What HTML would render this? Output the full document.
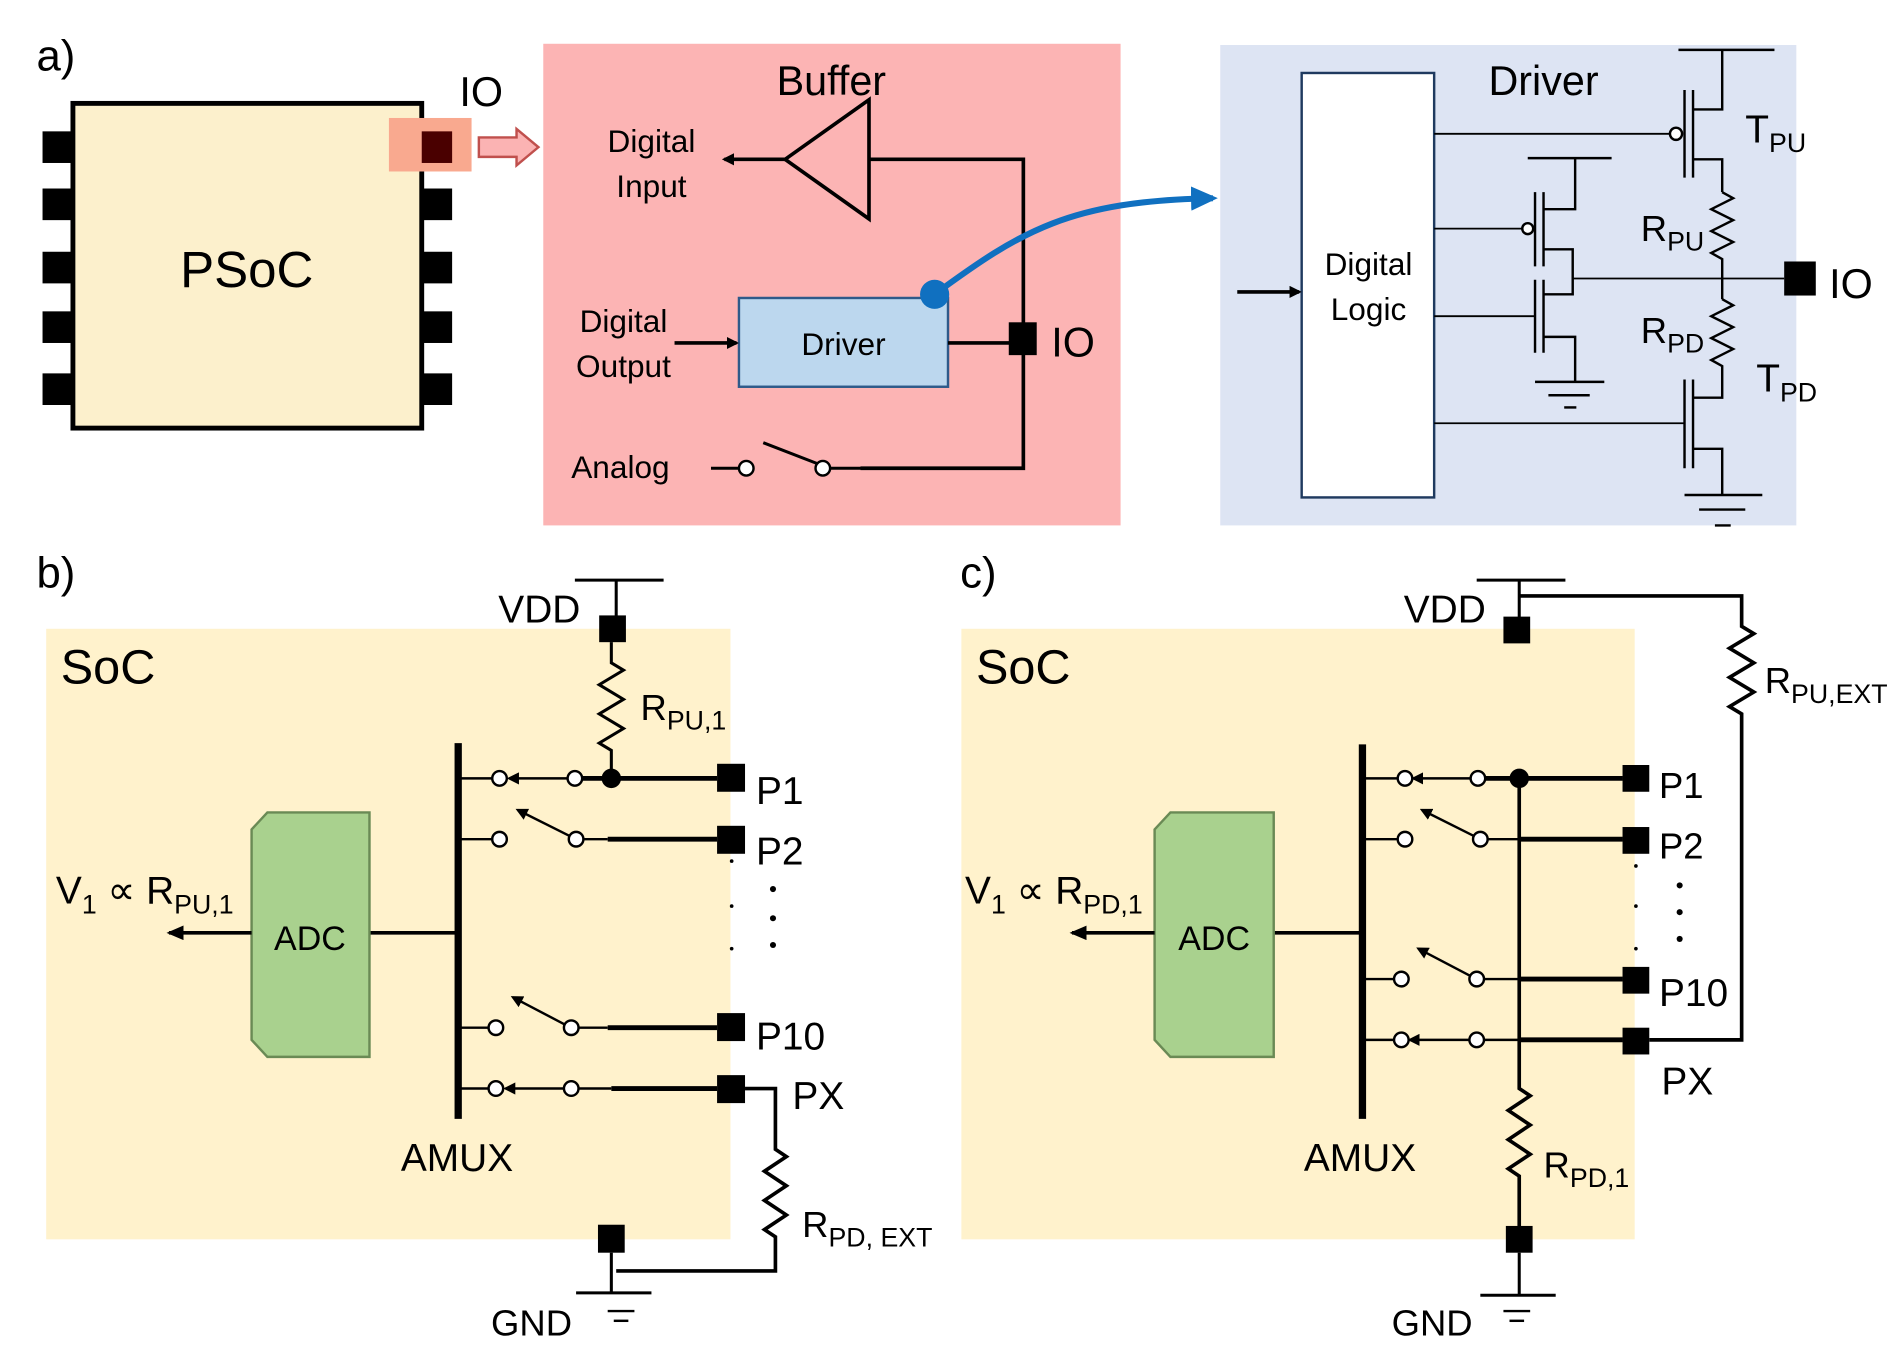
<!DOCTYPE html>
<html><head><meta charset="utf-8"><style>
html,body{margin:0;padding:0;background:#fff;}
svg{display:block;}
text{font-family:"Liberation Sans",sans-serif;fill:#000;}
</style></head><body>
<svg width="1896" height="1350" viewBox="0 0 1560 1110" preserveAspectRatio="none" xmlns="http://www.w3.org/2000/svg">
<defs>
<marker id="ah" markerWidth="10" markerHeight="10" refX="8" refY="5" orient="auto" markerUnits="userSpaceOnUse"><path d="M0,0 L10,5 L0,10 z" fill="#000"/></marker>
<marker id="ahs" markerWidth="14" markerHeight="12" refX="12" refY="6" orient="auto" markerUnits="userSpaceOnUse"><path d="M0,0 L14,6 L0,12 z" fill="#000"/></marker>
<marker id="ahb" markerWidth="22" markerHeight="20" refX="18" refY="10" orient="auto" markerUnits="userSpaceOnUse"><path d="M0,0 L22,10 L0,20 z" fill="#1070c0"/></marker>
</defs>

<!-- ===== Panel a ===== -->
<text x="30" y="58" font-size="36">a)</text>
<rect x="60" y="85" width="287" height="267" fill="#fcf0cc" stroke="#000" stroke-width="4"/>
<g fill="#000">
<rect x="35" y="108" width="25" height="26"/><rect x="35" y="155" width="25" height="26"/><rect x="35" y="207" width="25" height="26"/><rect x="35" y="256" width="25" height="26"/><rect x="35" y="307" width="25" height="26"/>
<rect x="347" y="155" width="25" height="26"/><rect x="347" y="207" width="25" height="26"/><rect x="347" y="256" width="25" height="26"/><rect x="347" y="307" width="25" height="26"/>
</g>
<rect x="320" y="97" width="68" height="44" fill="#f9a98f"/>
<rect x="347" y="108" width="25" height="26" fill="#4a0000"/>
<text x="203" y="236" font-size="42" text-anchor="middle">PSoC</text>
<text x="378" y="87" font-size="34">IO</text>
<path d="M394,113 L425,113 L425,106 L443,121 L425,136 L425,129 L394,129 z" fill="#fbb3b3" stroke="#c0504d" stroke-width="2"/>

<rect x="447" y="36" width="475" height="396" fill="#fcb4b4"/>
<text x="684" y="78" font-size="34" text-anchor="middle">Buffer</text>
<polygon points="715,82 715,180 646,131" fill="none" stroke="#000" stroke-width="3"/>
<line x1="646" y1="131" x2="596" y2="131" stroke="#000" stroke-width="3" marker-end="url(#ah)"/>
<text x="536" y="125" font-size="26" text-anchor="middle">Digital</text>
<text x="536" y="162" font-size="26" text-anchor="middle">Input</text>
<polyline points="715,131 842,131 842,385 708,385" fill="none" stroke="#000" stroke-width="3"/>
<rect x="608" y="245" width="172" height="73" fill="#bcd7ee" stroke="#2e5a8a" stroke-width="2"/>
<text x="694" y="292" font-size="26" text-anchor="middle">Driver</text>
<text x="513" y="273" font-size="26" text-anchor="middle">Digital</text>
<text x="513" y="310" font-size="26" text-anchor="middle">Output</text>
<line x1="555" y1="282" x2="606" y2="282" stroke="#000" stroke-width="3" marker-end="url(#ah)"/>
<line x1="780" y1="282" x2="832" y2="282" stroke="#000" stroke-width="3"/>
<rect x="830" y="265" width="23" height="27" fill="#000"/>
<text x="865" y="293" font-size="34">IO</text>
<text x="470" y="393" font-size="26">Analog</text>
<line x1="585" y1="385" x2="608" y2="385" stroke="#000" stroke-width="2.5"/>
<circle cx="614" cy="385" r="6" fill="#fff" stroke="#000" stroke-width="2"/>
<line x1="628" y1="364" x2="672" y2="381" stroke="#000" stroke-width="2.5"/>
<circle cx="677" cy="385" r="6" fill="#fff" stroke="#000" stroke-width="2"/>
<line x1="683" y1="385" x2="710" y2="385" stroke="#000" stroke-width="2.5"/>
<path d="M769,242 C840,190 880,165 998,163" fill="none" stroke="#1070c0" stroke-width="5" marker-end="url(#ahb)"/>
<circle cx="769" cy="242" r="12" fill="#1070c0"/>

<rect x="1004" y="37" width="474" height="395" fill="#dde4f3"/>
<text x="1270" y="78" font-size="34" text-anchor="middle">Driver</text>
<rect x="1071" y="60" width="109" height="349" fill="#fff" stroke="#1f3a5f" stroke-width="2"/>
<text x="1126" y="226" font-size="26" text-anchor="middle">Digital</text>
<text x="1126" y="263" font-size="26" text-anchor="middle">Logic</text>
<line x1="1018" y1="240" x2="1069" y2="240" stroke="#000" stroke-width="3" marker-end="url(#ah)"/>
<g stroke="#000" stroke-width="2" fill="none">
<!-- TPU -->
<line x1="1381" y1="41" x2="1460" y2="41"/>
<polyline points="1417,41 1417,90 1393,90"/>
<line x1="1386" y1="74" x2="1386" y2="146"/><line x1="1393" y1="74" x2="1393" y2="146"/>
<line x1="1180" y1="110" x2="1374" y2="110" stroke-width="1.5"/>
<circle cx="1379" cy="110" r="5" fill="#fff"/>
<polyline points="1393,131 1417,131 1417,158"/>
<polyline points="1417,158 1426,163 1408,172 1426,181 1408,190 1426,199 1408,208 1417,213 1417,246"/>
<polyline points="1417,246 1426,251 1408,260 1426,269 1408,278 1426,287 1408,296 1417,301 1417,327 1393,327"/>
<!-- TPD -->
<line x1="1386" y1="312" x2="1386" y2="385"/><line x1="1393" y1="312" x2="1393" y2="385"/>
<line x1="1180" y1="348" x2="1386" y2="348" stroke-width="1.5"/>
<polyline points="1393,369 1417,369 1417,407"/>
<line x1="1386" y1="407" x2="1450" y2="407"/>
<line x1="1398" y1="419" x2="1436" y2="419"/>
<line x1="1411" y1="432" x2="1424" y2="432"/>
<!-- inverter -->
<line x1="1257" y1="130" x2="1326" y2="130"/>
<polyline points="1296,130 1296,172 1270,172"/>
<line x1="1263" y1="158" x2="1263" y2="219"/><line x1="1270" y1="158" x2="1270" y2="219"/>
<line x1="1180" y1="188" x2="1252" y2="188" stroke-width="1.5"/>
<circle cx="1257" cy="188" r="4.5" fill="#fff"/>
<polyline points="1270,205 1294,205 1294,242 1270,242"/>
<line x1="1294" y1="229" x2="1468" y2="229" stroke-width="1.5"/>
<line x1="1263" y1="230" x2="1263" y2="290"/><line x1="1270" y1="230" x2="1270" y2="290"/>
<line x1="1180" y1="260" x2="1263" y2="260" stroke-width="1.5"/>
<polyline points="1270,277 1296,277 1296,314"/>
<line x1="1263" y1="314" x2="1320" y2="314"/>
<line x1="1274" y1="325" x2="1308" y2="325"/>
<line x1="1287" y1="335" x2="1297" y2="335"/>
</g>
<rect x="1468" y="215" width="26" height="28" fill="#000"/>
<text x="1505" y="245" font-size="34">IO</text>
<text x="1436" y="117" font-size="32">T<tspan font-size="22" dy="8">PU</tspan></text>
<text x="1350" y="198" font-size="30">R<tspan font-size="22" dy="8">PU</tspan></text>
<text x="1350" y="282" font-size="30">R<tspan font-size="22" dy="8">PD</tspan></text>
<text x="1445" y="322" font-size="32">T<tspan font-size="22" dy="8">PD</tspan></text>

<!-- ===== Panel b ===== -->
<text x="30" y="483" font-size="36">b)</text>
<rect x="38" y="517" width="563" height="502" fill="#fff2cc"/>
<text x="50" y="562" font-size="40">SoC</text>
<text x="410" y="512" font-size="32">VDD</text>
<g stroke="#000" stroke-width="3" fill="none">
<line x1="473" y1="477" x2="546" y2="477" stroke-width="2.5"/>
<line x1="507" y1="477" x2="507" y2="508" stroke-width="2.5"/>
<polyline points="503,528 503,545 513,551 493,563 513,575 493,587 513,599 493,611 503,617 503,640" stroke-width="2.5"/>
<line x1="377" y1="611" x2="377" y2="920" stroke-width="6"/>
<line x1="304" y1="767" x2="377" y2="767"/>
<!-- rows -->
<line x1="377" y1="640" x2="405" y2="640" stroke-width="2"/>
<line x1="467" y1="640" x2="419" y2="640" stroke-width="2" marker-end="url(#ah)"/>
<line x1="479" y1="640" x2="590" y2="640" stroke-width="4"/>
<line x1="377" y1="690" x2="405" y2="690" stroke-width="2"/>
<line x1="468" y1="687" x2="426" y2="666" stroke-width="2" marker-end="url(#ah)"/>
<line x1="480" y1="690" x2="500" y2="690" stroke-width="2"/>
<line x1="500" y1="690" x2="590" y2="690" stroke-width="4"/>
<line x1="377" y1="845" x2="402" y2="845" stroke-width="2"/>
<line x1="464" y1="842" x2="422" y2="820" stroke-width="2" marker-end="url(#ah)"/>
<line x1="476" y1="845" x2="500" y2="845" stroke-width="2"/>
<line x1="500" y1="845" x2="590" y2="845" stroke-width="4"/>
<line x1="377" y1="895" x2="402" y2="895" stroke-width="2"/>
<line x1="464" y1="895" x2="416" y2="895" stroke-width="2" marker-end="url(#ah)"/>
<line x1="476" y1="895" x2="503" y2="895" stroke-width="2"/>
<line x1="503" y1="895" x2="590" y2="895" stroke-width="4"/>
<polyline points="613,895 638,895 638,945 647,951 629,963 647,975 629,987 647,999 629,1011 638,1017 638,1045 507,1045" stroke-width="3"/>
<line x1="503" y1="1030" x2="503" y2="1063" stroke-width="2.5"/>
<line x1="474" y1="1063" x2="536" y2="1063" stroke-width="2.5"/>
<line x1="500" y1="1078" x2="522" y2="1078" stroke-width="2"/>
<line x1="505" y1="1086" x2="517" y2="1086" stroke-width="2"/>
</g>
<g fill="#fff" stroke="#000" stroke-width="2">
<circle cx="411" cy="640" r="6"/><circle cx="473" cy="640" r="6"/>
<circle cx="411" cy="690" r="6"/><circle cx="474" cy="690" r="6"/>
<circle cx="408" cy="845" r="6"/><circle cx="470" cy="845" r="6"/>
<circle cx="408" cy="895" r="6"/><circle cx="470" cy="895" r="6"/>
</g>
<circle cx="503" cy="640" r="8" fill="#000"/>
<g fill="#000">
<rect x="493" y="506" width="22" height="22"/>
<rect x="590" y="628" width="23" height="23"/><rect x="590" y="679" width="23" height="23"/>
<rect x="590" y="833" width="23" height="23"/><rect x="590" y="884" width="23" height="23"/>
<rect x="492" y="1007" width="22" height="23"/>
<circle cx="602" cy="708" r="1.5"/><circle cx="602" cy="745" r="1.5"/><circle cx="602" cy="780" r="1.5"/>
<circle cx="636" cy="731" r="2.5"/><circle cx="636" cy="755" r="2.5"/><circle cx="636" cy="777" r="2.5"/>
</g>
<text x="527" y="592" font-size="30">R<tspan font-size="22" dy="8">PU,1</tspan></text>
<text x="622" y="661" font-size="32">P1</text>
<text x="622" y="711" font-size="32">P2</text>
<text x="622" y="863" font-size="32">P10</text>
<text x="652" y="912" font-size="32">PX</text>
<text x="660" y="1017" font-size="30">R<tspan font-size="22" dy="8">PD, EXT</tspan></text>
<text x="404" y="1098" font-size="30">GND</text>
<polygon points="220,668 304,668 304,869 220,869 207,855 207,682" fill="#a9d18e" stroke="#6a8a55" stroke-width="2"/>
<text x="255" y="781" font-size="28" text-anchor="middle">ADC</text>
<line x1="207" y1="767" x2="139" y2="767" stroke="#000" stroke-width="3" marker-end="url(#ahs)"/>
<text x="46" y="743" font-size="32">V<tspan font-size="22" dy="8">1</tspan><tspan dy="-8"> ∝ R</tspan><tspan font-size="22" dy="8">PU,1</tspan></text>
<text x="376" y="963" font-size="32" text-anchor="middle">AMUX</text>

<!-- ===== Panel c ===== -->
<text x="790" y="483" font-size="36">c)</text>
<rect x="791" y="517" width="554" height="502" fill="#fff2cc"/>
<text x="803" y="562" font-size="40">SoC</text>
<text x="1155" y="512" font-size="32">VDD</text>
<g stroke="#000" stroke-width="3" fill="none">
<line x1="1215" y1="477" x2="1288" y2="477" stroke-width="2.5"/>
<line x1="1250" y1="477" x2="1250" y2="508" stroke-width="2.5"/>
<polyline points="1250,490 1433,490 1433,515 1443,521 1423,533 1443,545 1423,557 1443,569 1423,581 1433,587 1433,855 1357,855"/>
<line x1="1121" y1="612" x2="1121" y2="920" stroke-width="6"/>
<line x1="1048" y1="767" x2="1121" y2="767"/>
<line x1="1121" y1="640" x2="1150" y2="640" stroke-width="2"/>
<line x1="1210" y1="640" x2="1163" y2="640" stroke-width="2" marker-end="url(#ah)"/>
<line x1="1222" y1="640" x2="1335" y2="640" stroke-width="4"/>
<line x1="1121" y1="690" x2="1150" y2="690" stroke-width="2"/>
<line x1="1212" y1="687" x2="1170" y2="666" stroke-width="2" marker-end="url(#ah)"/>
<line x1="1224" y1="690" x2="1250" y2="690" stroke-width="2"/>
<line x1="1250" y1="690" x2="1335" y2="690" stroke-width="4"/>
<line x1="1121" y1="805" x2="1147" y2="805" stroke-width="2"/>
<line x1="1209" y1="802" x2="1167" y2="780" stroke-width="2" marker-end="url(#ah)"/>
<line x1="1221" y1="805" x2="1250" y2="805" stroke-width="2"/>
<line x1="1250" y1="805" x2="1335" y2="805" stroke-width="4"/>
<line x1="1121" y1="855" x2="1147" y2="855" stroke-width="2"/>
<line x1="1209" y1="855" x2="1160" y2="855" stroke-width="2" marker-end="url(#ah)"/>
<line x1="1221" y1="855" x2="1250" y2="855" stroke-width="2"/>
<line x1="1250" y1="855" x2="1335" y2="855" stroke-width="4"/>
<polyline points="1250,640 1250,895 1259,901 1241,913 1259,925 1241,937 1259,949 1241,961 1250,967 1250,1008" stroke-width="3"/>
<line x1="1250" y1="1030" x2="1250" y2="1065" stroke-width="2.5"/>
<line x1="1218" y1="1065" x2="1280" y2="1065" stroke-width="2.5"/>
<line x1="1237" y1="1078" x2="1259" y2="1078" stroke-width="2"/>
<line x1="1242" y1="1086" x2="1254" y2="1086" stroke-width="2"/>
</g>
<g fill="#fff" stroke="#000" stroke-width="2">
<circle cx="1156" cy="640" r="6"/><circle cx="1216" cy="640" r="6"/>
<circle cx="1156" cy="690" r="6"/><circle cx="1218" cy="690" r="6"/>
<circle cx="1153" cy="805" r="6"/><circle cx="1215" cy="805" r="6"/>
<circle cx="1153" cy="855" r="6"/><circle cx="1215" cy="855" r="6"/>
</g>
<circle cx="1250" cy="640" r="8" fill="#000"/>
<g fill="#000">
<rect x="1237" y="507" width="22" height="22"/>
<rect x="1335" y="629" width="22" height="22"/><rect x="1335" y="680" width="22" height="22"/>
<rect x="1335" y="795" width="22" height="22"/><rect x="1335" y="845" width="22" height="22"/>
<rect x="1239" y="1008" width="22" height="22"/>
<circle cx="1346" cy="712" r="1.5"/><circle cx="1346" cy="745" r="1.5"/><circle cx="1346" cy="780" r="1.5"/>
<circle cx="1382" cy="728" r="2.5"/><circle cx="1382" cy="750" r="2.5"/><circle cx="1382" cy="772" r="2.5"/>
</g>
<text x="1452" y="570" font-size="30">R<tspan font-size="22" dy="8">PU,EXT</tspan></text>
<text x="1365" y="656" font-size="30">P1</text>
<text x="1365" y="706" font-size="30">P2</text>
<text x="1365" y="827" font-size="32">P10</text>
<text x="1367" y="900" font-size="32">PX</text>
<text x="1270" y="968" font-size="30">R<tspan font-size="22" dy="8">PD,1</tspan></text>
<text x="1145" y="1098" font-size="30">GND</text>
<polygon points="963,668 1048,668 1048,869 963,869 950,855 950,682" fill="#a9d18e" stroke="#6a8a55" stroke-width="2"/>
<text x="999" y="781" font-size="28" text-anchor="middle">ADC</text>
<line x1="950" y1="767" x2="882" y2="767" stroke="#000" stroke-width="3" marker-end="url(#ahs)"/>
<text x="794" y="743" font-size="32">V<tspan font-size="22" dy="8">1</tspan><tspan dy="-8"> ∝ R</tspan><tspan font-size="22" dy="8">PD,1</tspan></text>
<text x="1119" y="963" font-size="32" text-anchor="middle">AMUX</text>
</svg>
</body></html>
